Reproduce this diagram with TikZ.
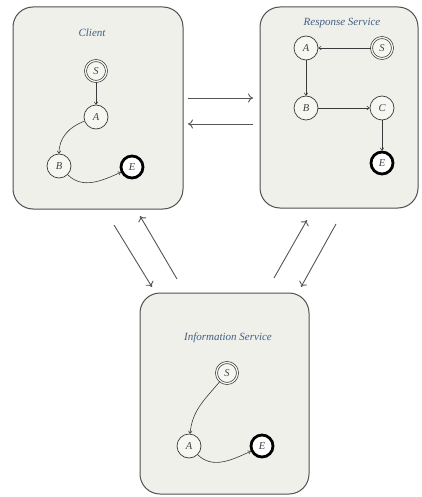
\documentclass[tikz,border=0pt]{standalone}
\usepackage{fontspec}
\setmainfont{Liberation Serif}
\usetikzlibrary{arrows.meta}
\definecolor{boxfill}{HTML}{F0F0EA}
\definecolor{boxline}{HTML}{505050}
\definecolor{titleblue}{HTML}{3F5F85}
\definecolor{nodeline}{HTML}{3A3A3A}
\definecolor{arrowgray}{HTML}{555555}
\tikzset{
  panel/.style={draw=boxline, line width=1pt, fill=boxfill, rounded corners=20pt},
  title/.style={font=\fontsize{11}{13}\selectfont\itshape, text=titleblue},
  state/.style={circle, draw=nodeline, line width=0.7pt, fill=boxfill!60!white, minimum size=24pt, inner sep=0pt, font=\fontsize{10.5}{12}\selectfont\itshape, text=black!75},
  startst/.style={state, double=boxfill!60!white, double distance=1.3pt, minimum size=21pt},
  endst/.style={state, line width=2.8pt, draw=black, minimum size=22pt, fill=white},
  tr/.style={-{To[length=3pt,width=4pt]}, draw=nodeline, line width=0.6pt},
  link/.style={-{To[length=5pt,width=9pt]}, draw=arrowgray, line width=0.9pt}
}
\begin{document}
\begin{tikzpicture}[x=1pt,y=-1pt]
\useasboundingbox (0,0) rectangle (422,497);
% panels
\path[panel] (13,7) rectangle (183,209);
\path[panel] (260,7) rectangle (418,208);
\path[panel] (140,293) rectangle (309,494);
% Client
\node[title] (ct) at (92,33) {Client};
\node[startst] (cs) at (96,71) {S};
\node[state] (ca) at (96,117) {A};
\node[state] (cb) at (59,166) {B};
\node[endst] (ce) at (132,167) {E};
\draw[tr] (cs) -- (ca);
\draw[tr] (ca) to[out=200,in=90] (cb);
\draw[tr] (cb) to[out=-45,in=205] (ce);
% Response Service
\node[title] (rt) at (342,23) {Response Service};
\node[state] (ra) at (306,48) {A};
\node[startst] (rs) at (382,48) {S};
\node[state] (rb) at (306,108) {B};
\node[state] (rc) at (382,108) {C};
\node[endst] (re) at (382,163) {E};
\draw[tr] (rs) -- (ra);
\draw[tr] (ra) -- (rb);
\draw[tr] (rb) -- (rc);
\draw[tr] (rc) -- (re);
% Information Service
\node[title] (it) at (228,338) {Information Service};
\node[startst] (is) at (227,373) {S};
\node[state] (ia) at (189,446) {A};
\node[endst] (ie) at (262,446) {E};
\draw[tr] (is) to[out=230,in=85] (ia);
\draw[tr] (ia) to[out=-45,in=205] (ie);
% inter-panel links
\coordinate (l1a) at (188,98);  \coordinate (l1b) at (253,98);
\coordinate (l2a) at (253,124); \coordinate (l2b) at (188,124);
\coordinate (l3a) at (114,225); \coordinate (l3b) at (152,287);
\coordinate (l4a) at (177,279); \coordinate (l4b) at (140,216);
\coordinate (l5a) at (274,278); \coordinate (l5b) at (307,220);
\coordinate (l6a) at (336,224); \coordinate (l6b) at (301,287);
\draw[link] (l1a) -- (l1b);
\draw[link] (l2a) -- (l2b);
\draw[link] (l3a) -- (l3b);
\draw[link] (l4a) -- (l4b);
\draw[link] (l5a) -- (l5b);
\draw[link] (l6a) -- (l6b);
\end{tikzpicture}
\end{document}
